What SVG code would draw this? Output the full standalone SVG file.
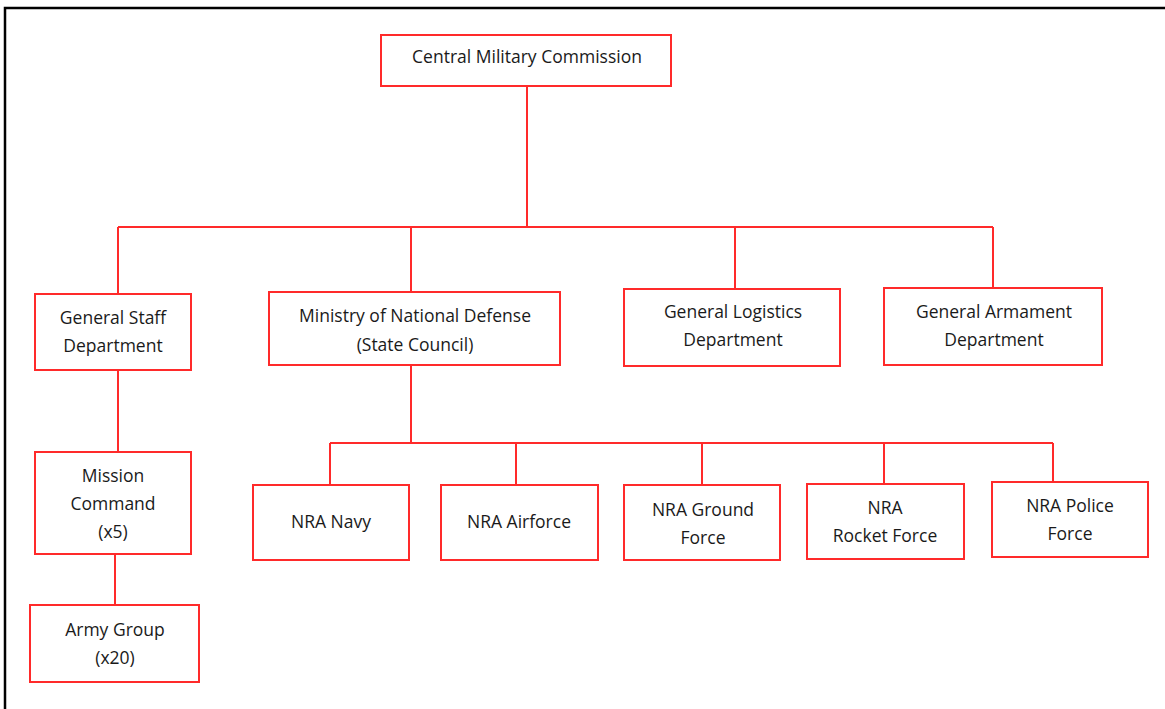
<svg xmlns="http://www.w3.org/2000/svg" width="1165" height="709" viewBox="0 0 1165 709">
<style>
.box{fill:#fff;stroke:#ff2a2a;stroke-width:2}
.ln{fill:none;stroke:#ff2a2a;stroke-width:2}
.frame{fill:none;stroke:#000;stroke-width:2.5}
text{font-family:"Open Sans","Liberation Sans",sans-serif;font-size:17.5px;fill:#1a1a1a;text-anchor:middle;dominant-baseline:middle}
</style>
<rect width="1165" height="709" fill="#fff"/>
<path class="frame" d="M5,709 V8 H1165"/>
<g id="connectors">
<path class="ln" d="M527,86 V227 M118,227 H993 M118,227 V294 M411,227 V292 M735,227 V289 M993,227 V288"/>
<path class="ln" d="M118,370 V452 M115,554 V605"/>
<path class="ln" d="M411,365 V443 M330,443 H1053 M330,443 V485 M516,443 V485 M702,443 V485 M884,443 V484 M1053,443 V482"/>
</g>
<g id="cmc"><rect class="box" x="381" y="35" width="290" height="51"/><text x="527" y="58">Central Military Commission</text></g>
<g id="gsd"><rect class="box" x="35" y="294" width="156" height="76"/><text x="113" y="319">General Staff</text><text x="113" y="347">Department</text></g>
<g id="mnd"><rect class="box" x="269" y="292" width="291" height="73"/><text x="415" y="317">Ministry of National Defense</text><text x="415" y="346">(State Council)</text></g>
<g id="gld"><rect class="box" x="624" y="289" width="216" height="77"/><text x="733" y="313">General Logistics</text><text x="733" y="341">Department</text></g>
<g id="gad"><rect class="box" x="884" y="288" width="218" height="77"/><text x="994" y="313">General Armament</text><text x="994" y="341">Department</text></g>
<g id="mission"><rect class="box" x="35" y="452" width="156" height="102"/><text x="113" y="477">Mission</text><text x="113" y="505">Command</text><text x="113" y="533">(x5)</text></g>
<g id="army"><rect class="box" x="30" y="605" width="169" height="77"/><text x="115" y="631">Army Group</text><text x="115" y="659">(x20)</text></g>
<g id="navy"><rect class="box" x="253" y="485" width="156" height="75"/><text x="331" y="523">NRA Navy</text></g>
<g id="airforce"><rect class="box" x="441" y="485" width="157" height="75"/><text x="519" y="523">NRA Airforce</text></g>
<g id="ground"><rect class="box" x="624" y="485" width="156" height="75"/><text x="703" y="511">NRA Ground</text><text x="703" y="539">Force</text></g>
<g id="rocket"><rect class="box" x="807" y="484" width="157" height="75"/><text x="885" y="509">NRA</text><text x="885" y="537">Rocket Force</text></g>
<g id="police"><rect class="box" x="992" y="482" width="156" height="75"/><text x="1070" y="507">NRA Police</text><text x="1070" y="535">Force</text></g>
</svg>
